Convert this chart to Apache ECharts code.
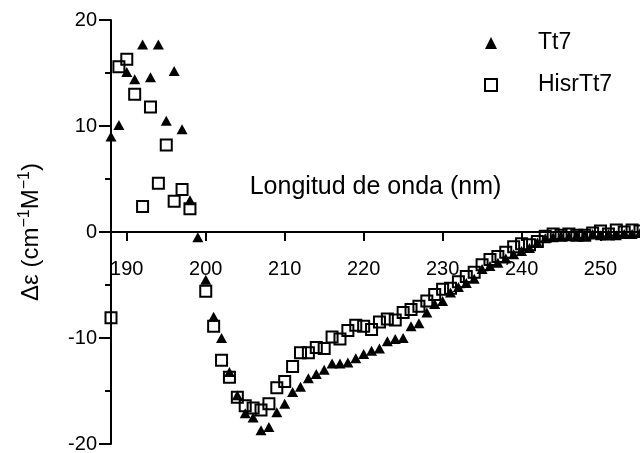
<!DOCTYPE html>
<html>
<head>
<meta charset="utf-8">
<script src="https://cdn.jsdelivr.net/npm/echarts@6/dist/echarts.min.js"></script>
<style>
html,body{margin:0;padding:0;background:#fff;}
#chart{width:640px;height:453px;}
</style>
</head>
<body>
<div id="chart"></div>
<script>
// Wavelengths (nm)
const wavelengths = [188,189,190,191,192,193,194,195,196,197,198,199,200,201,202,203,204,205,206,207,208,209,210,211,212,213,214,215,216,217,218,219,220,221,222,223,224,225,226,227,228,229,230,231,232,233,234,235,236,237,238,239,240,241,242,243,244,245,246,247,248,249,250,251,252,253,254,255];
// Tt7 (triangles)
const tt7 = [9.0,10.1,15.1,14.4,17.7,14.6,17.7,10.5,15.2,9.7,3.0,-0.5,-4.5,-8.0,-10.0,-13.2,-15.4,-17.1,-17.5,-18.7,-18.4,-17.0,-16.2,-15.1,-14.6,-13.8,-13.4,-13.0,-12.4,-12.4,-12.3,-11.9,-11.5,-11.2,-11.0,-10.3,-10.1,-10.0,-8.9,-8.6,-7.6,-6.8,-6.5,-5.7,-5.2,-4.8,-4.4,-3.5,-3.2,-2.9,-2.5,-2.1,-1.8,-1.5,-1.0,-0.6,-0.5,-0.4,-0.4,-0.3,-0.3,-0.2,-0.3,-0.2,-0.3,-0.2,-0.2,-0.1];
// HisrTt7 (open squares)
const hisrTt7 = [-8.1,15.6,16.3,13.0,2.4,11.8,4.6,8.2,2.9,4.0,2.2,null,-5.6,-8.9,-12.1,-13.7,-15.6,-16.4,-16.6,-16.8,-16.2,-14.7,-14.1,-12.7,-11.4,-11.4,-10.9,-11.0,-9.9,-10.1,-9.3,-8.8,-8.9,-9.2,-8.5,-8.2,-8.3,-7.6,-7.3,-7.0,-6.5,-5.9,-5.4,-5.3,-4.7,-4.2,-3.8,-3.1,-2.6,-2.3,-1.9,-1.4,-1.1,-1.2,-0.9,-0.4,-0.2,-0.3,-0.2,-0.3,-0.3,-0.1,0.1,-0.2,0.2,0.0,0.2,0.1];
// Axis ticks
const xTicks = [190,200,210,220,230,240,250];
const yTicks = [-20,-10,0,10,20];

const FONT = "'Liberation Sans', Arial, Helvetica, sans-serif";
function pairs(vals){
  const out = [];
  wavelengths.forEach((x,i)=>{ if (vals[i] !== null) out.push([x, vals[i]]); });
  return out;
}

const GRID_TOP = 20, GRID_BOTTOM = 9, H = 453;
// x axis sits at y = 0, i.e. at the middle of the symmetric y range
const plotH = H - GRID_TOP - GRID_BOTTOM;
const zeroOffset = -Math.round(plotH * (0 - yTicks[0]) / (yTicks[yTicks.length-1] - yTicks[0]));

const chart = echarts.init(document.getElementById('chart'), null, {renderer:'canvas'});
chart.setOption({
  animation: false,
  backgroundColor: '#ffffff',
  textStyle: {fontFamily: FONT, color: '#000'},
  grid: {left: 111, right: 0, top: GRID_TOP, bottom: GRID_BOTTOM, containLabel: false, outerBoundsMode: 'none'},
  legend: {
    orient: 'vertical',
    left: 479,
    top: 26,
    itemWidth: 12,
    itemHeight: 12,
    itemGap: 18,
    textStyle: {fontFamily: FONT, fontSize: 23, color: '#000', lineHeight: 24, padding: [0,0,0,36]},
    data: ['Tt7', 'HisrTt7']
  },
  xAxis: {
    type: 'value',
    position: 'bottom',
    offset: zeroOffset,
    min: 188,
    max: 255,
    name: 'Longitud de onda (nm)',
    nameLocation: 'middle',
    nameGap: -45,
    nameTextStyle: {fontFamily: FONT, fontSize: 25, color: '#000', verticalAlign: 'middle'},
    axisLine: {show: true, onZero: false, lineStyle: {color: '#000', width: 2}},
    axisTick: {show: true, inside: false, length: 9, lineStyle: {color: '#000', width: 2}, customValues: xTicks},
    axisLabel: {fontFamily: FONT, fontSize: 20, color: '#000', margin: 27, customValues: xTicks},
    splitLine: {show: false}
  },
  yAxis: {
    type: 'value',
    min: yTicks[0],
    max: yTicks[yTicks.length-1],
    interval: 10,
    name: '{a|Δε (cm}{s|−1}{a|M}{s|−1}{a|)}',
    nameLocation: 'middle',
    nameRotate: 90,
    nameGap: 66,
    nameTextStyle: {
      rich: {
        a: {fontFamily: FONT, fontSize: 24, color: '#000', lineHeight: 28},
        s: {fontFamily: FONT, fontSize: 16, color: '#000', lineHeight: 16, verticalAlign: 'top'}
      }
    },
    axisLine: {show: true, lineStyle: {color: '#000', width: 2}},
    axisTick: {show: true, inside: false, length: 12, lineStyle: {color: '#000', width: 2}},
    minorTick: {show: true, splitNumber: 2, length: 6, lineStyle: {color: '#000', width: 2}},
    axisLabel: {fontFamily: FONT, fontSize: 20, color: '#000', margin: 14},
    splitLine: {show: false}
  },
  series: [
    {
      name: 'Tt7',
      type: 'scatter',
      symbol: 'triangle',
      symbolSize: [11, 10],
      itemStyle: {color: '#000', opacity: 1},
      data: pairs(tt7)
    },
    {
      name: 'HisrTt7',
      type: 'scatter',
      symbol: 'rect',
      symbolSize: 11,
      itemStyle: {color: 'transparent', borderColor: '#000', borderWidth: 2, opacity: 1},
      data: pairs(hisrTt7)
    }
  ]
});
</script>
</body>
</html>
